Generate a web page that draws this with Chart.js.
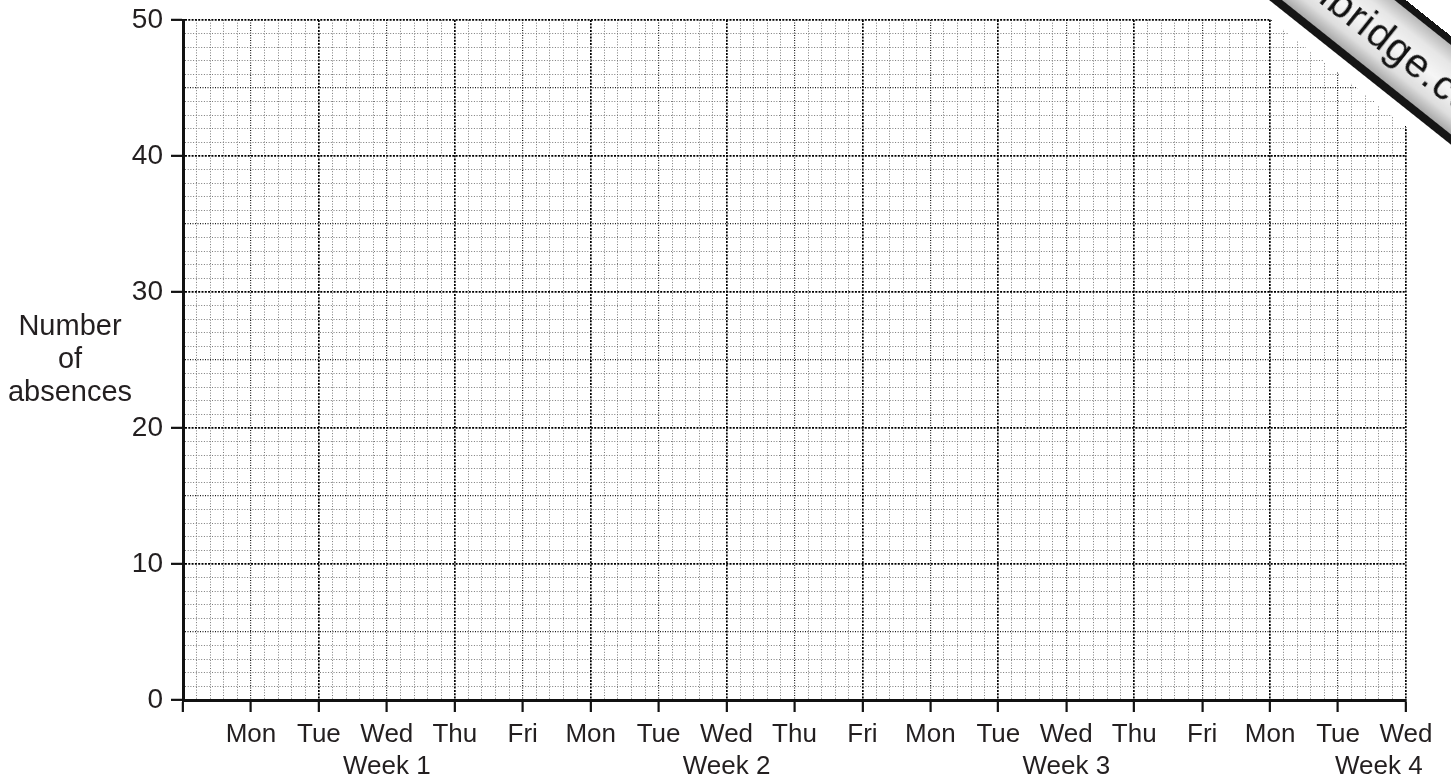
<!DOCTYPE html>
<html>
<head>
<meta charset="utf-8">
<title>Number of absences</title>
<script src="https://cdn.jsdelivr.net/npm/chart.js@4.4.1/dist/chart.umd.min.js"></script>
<style>
  html, body { margin: 0; padding: 0; background: #fff; overflow: hidden; }
  #wrap { position: relative; width: 1451px; height: 781px; overflow: hidden; }
  /* watermark banner in the top right corner */
  .banner {
    position: absolute;
    left: 1290px;
    top: -92px;
    width: 560px;
    height: 70px;
    line-height: 70px;
    padding-left: 0;
    transform-origin: 0 0;
    transform: rotate(38.5deg);
    border-top: 7px solid #151515;
    border-bottom: 8px solid #151515;
    background: linear-gradient(#b8b8b8, #e6e6e6 22%, #f6f6f6 50%, #dedede 80%, #a9a9a9);
    box-shadow: 0 14px 0 #fff;
    font-family: "Liberation Sans", Arial, sans-serif;
    font-size: 41px;
    letter-spacing: 1px;
    color: #111;
    white-space: nowrap;
  }
</style>
</head>
<body>
<div id="wrap">
  <canvas id="chart"></canvas>
  <div class="banner">Cambridge.com</div>
</div>
<script>
// x axis: one label per school day, weeks underneath
const dayLabels = ['Mon', 'Tue', 'Wed', 'Thu', 'Fri', 'Mon', 'Tue', 'Wed', 'Thu', 'Fri',
                   'Mon', 'Tue', 'Wed', 'Thu', 'Fri', 'Mon', 'Tue', 'Wed'];
const weekLabels = ['Week 1', 'Week 2', 'Week 3', 'Week 4'];
const weekPositions = [3, 8, 13, 17.6];

// y axis
const yMax = 50;
const yLabelStep = 10;
const yTitle = ['Number', 'of', 'absences'];

// the grid is empty, nothing plotted yet
const absences = [];

const FONT = '"Liberation Sans", Arial, Helvetica, sans-serif';
const TEXT = '#231f20';

// graph paper: fine lines, darker every 5, darkest every 10 small squares
const lineStyle = (n) => {
  if (n % 10 === 0) return { color: '#000', width: 1.7, dash: [2, 1.3] };
  if (n % 5 === 0) return { color: '#1e1e1e', width: 1.2, dash: [1, 1.5] };
  return { color: '#7a7a7a', width: 1, dash: [1, 1.7] };
};
const xIndex = (ctx) => ctx.tick ? Math.round(ctx.tick.value * 5) : 0;
const yIndex = (ctx) => ctx.tick ? Math.round(ctx.tick.value) : 0;

const yTitlePlugin = {
  id: 'yTitle',
  afterDraw(chart) {
    const { ctx } = chart;
    const mid = chart.scales.y.getPixelForValue(yMax / 2);
    ctx.save();
    ctx.font = '29px ' + FONT;
    ctx.fillStyle = TEXT;
    ctx.textAlign = 'center';
    ctx.textBaseline = 'middle';
    yTitle.forEach((t, i) => ctx.fillText(t, 70, mid + (i - 1) * 33));
    ctx.restore();
  }
};

Chart.defaults.font.family = FONT;
Chart.defaults.color = TEXT;

new Chart(document.getElementById('chart'), {
  type: 'scatter',
  data: {
    datasets: [{ label: 'Absences', data: absences, showLine: true, borderColor: '#000' }]
  },
  options: {
    responsive: true,
    maintainAspectRatio: false,
    animation: false,
    layout: { padding: { top: 20, right: 45, left: 0, bottom: 0 } },
    plugins: { legend: { display: false }, tooltip: { enabled: false } },
    scales: {
      x: {
        type: 'linear',
        min: 0,
        max: dayLabels.length,
        position: 'bottom',
        weight: 0,
        afterBuildTicks: (axis) => {
          axis.ticks = Array.from({ length: dayLabels.length * 5 + 1 }, (_, i) => ({ value: i / 5 }));
        },
        afterFit: (scale) => { scale.height = 48; },
        ticks: {
          autoSkip: false,
          maxRotation: 0,
          minRotation: 0,
          padding: 7,
          font: { size: 26 },
          callback: (v) => {
            const k = Math.round(v * 5);
            return k > 0 && k % 5 === 0 ? dayLabels[k / 5 - 1] : '';
          }
        },
        grid: {
          color: (ctx) => lineStyle(xIndex(ctx)).color,
          lineWidth: (ctx) => lineStyle(xIndex(ctx)).width,
          tickLength: 12,
          tickWidth: 2.2,
          tickColor: (ctx) => xIndex(ctx) % 5 === 0 ? '#111' : 'rgba(0,0,0,0)'
        },
        border: { display: true, color: '#111', width: 3, dash: (ctx) => lineStyle(xIndex(ctx)).dash }
      },
      week: {
        type: 'linear',
        min: 0,
        max: dayLabels.length,
        position: 'bottom',
        weight: 1,
        afterBuildTicks: (axis) => {
          axis.ticks = weekPositions.map((v) => ({ value: v }));
        },
        afterFit: (scale) => { scale.height = 33; },
        ticks: {
          autoSkip: false,
          maxRotation: 0,
          minRotation: 0,
          padding: 3,
          font: { size: 26 },
          callback: (v, i) => weekLabels[i]
        },
        grid: { display: false, drawTicks: false },
        border: { display: false }
      },
      y: {
        type: 'linear',
        min: 0,
        max: yMax,
        afterBuildTicks: (axis) => {
          axis.ticks = Array.from({ length: yMax + 1 }, (_, i) => ({ value: i }));
        },
        // fixed width, and don't let the top label push the plot down
        afterFit: (scale) => {
          scale.width = 183;
          scale.paddingTop = 0;
          scale.paddingBottom = 0;
        },
        ticks: {
          autoSkip: false,
          padding: 8,
          font: { size: 28 },
          callback: (v) => v % yLabelStep === 0 ? String(v) : ''
        },
        grid: {
          color: (ctx) => lineStyle(yIndex(ctx)).color,
          lineWidth: (ctx) => lineStyle(yIndex(ctx)).width,
          tickLength: 12,
          tickWidth: 2.2,
          tickColor: (ctx) => yIndex(ctx) % yLabelStep === 0 ? '#111' : 'rgba(0,0,0,0)'
        },
        border: { display: true, color: '#111', width: 3, dash: (ctx) => lineStyle(yIndex(ctx)).dash }
      }
    }
  },
  plugins: [yTitlePlugin]
});
</script>
</body>
</html>
